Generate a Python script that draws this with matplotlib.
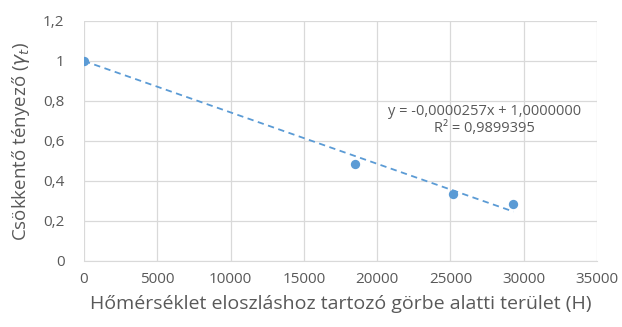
import matplotlib
matplotlib.use("Agg")
import matplotlib.pyplot as plt
import numpy as np

x_vals = [0, 18500, 25200, 29300]
y_vals = [1.0, 0.487, 0.337, 0.287]
slope = -0.0000257
intercept = 1.0
eq_text = "y = -0,0000257x + 1,0000000"
r2_text = "R² = 0,9899395"
xticks = [0, 5000, 10000, 15000, 20000, 25000, 30000, 35000]
yticks = [0, 0.2, 0.4, 0.6, 0.8, 1.0, 1.2]
ytick_labels = ["0", "0,2", "0,4", "0,6", "0,8", "1", "1,2"]

plt.rcParams['font.family'] = ['Open Sans', 'DejaVu Sans']
grey = '#595959'
blue = '#5B9BD5'

fig = plt.figure(figsize=(6.22, 3.27), dpi=100)
ax = fig.add_axes([84/622, 1-261/327, (597-84)/622, (261-21)/327])

ax.scatter(x_vals, y_vals, s=45, color=blue, zorder=3, linewidths=0)
xt = np.array([x_vals[0], x_vals[-1]])
ax.plot(xt, slope*xt + intercept, ls=(0, (3.5, 2.5)), color=blue, lw=1.3, zorder=2)

ax.set_xlim(0, 35000)
ax.set_ylim(0, 1.2)
ax.set_xticks(xticks)
ax.set_xticklabels([str(v) for v in xticks])
ax.set_yticks(yticks)
ax.set_yticklabels(ytick_labels)
ax.grid(True, color='#D9D9D9', lw=0.9)
ax.set_axisbelow(True)
for s in ['top', 'right', 'left']:
    ax.spines[s].set_visible(False)
ax.spines['bottom'].set_color('#D9D9D9')
ax.tick_params(axis='x', length=0, colors=grey, labelsize=11, pad=8)
ax.tick_params(axis='y', length=0, colors=grey, labelsize=11, pad=14)
ax.set_xlabel("Hőmérséklet eloszláshoz tartozó görbe alatti terület (H)", color=grey, fontsize=14, labelpad=6)
ax.set_ylabel(r"Csökkentő tényező ($\gamma_t$)", color=grey, fontsize=13.5, labelpad=8)

ax.text(0.78, 0.5875, eq_text + "\n" + r2_text, transform=ax.transAxes, ha='center', va='center',
        color=grey, fontsize=10.5, linespacing=1.25)

fig.savefig("out.png", dpi=100)
